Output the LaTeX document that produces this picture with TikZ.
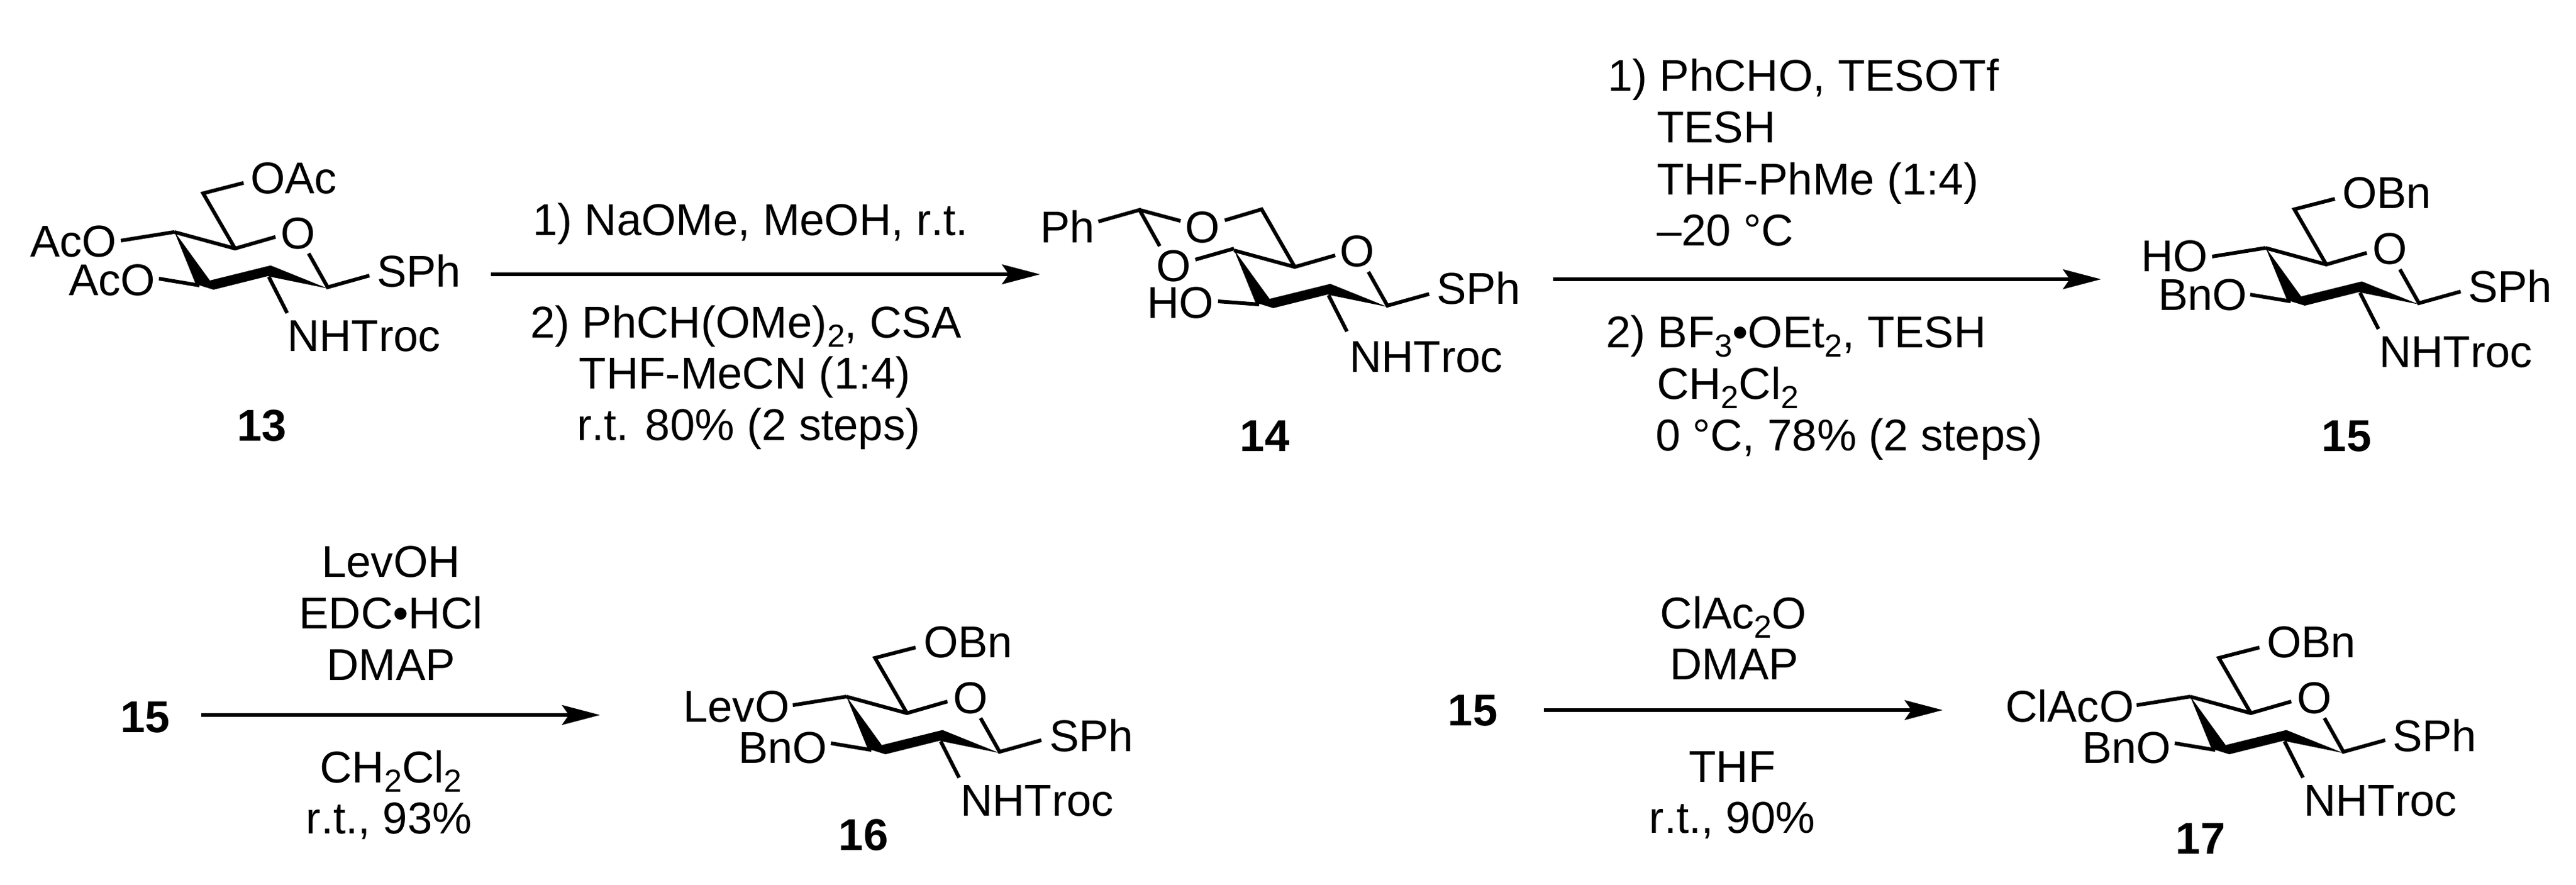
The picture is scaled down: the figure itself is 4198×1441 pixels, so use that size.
\documentclass[tikz,border=0pt]{standalone}
\usepackage{fontspec}
\setmainfont[Kerning=Off]{Liberation Sans}
\usetikzlibrary{arrows.meta}
\newcommand{\subs}[1]{\raisebox{-15pt}{\fontsize{52}{52}\selectfont #1}}
\tikzset{
  lab/.style={inner sep=0pt,outer sep=0pt,anchor=base west,font=\fontsize{72.6}{72.6}\selectfont},
  cen/.style={inner sep=0pt,outer sep=0pt,anchor=base,font=\fontsize{72.6}{72.6}\selectfont},
  num/.style={inner sep=0pt,outer sep=0pt,anchor=base,font=\fontsize{72.6}{72.6}\selectfont\bfseries},
  bond/.style={line width=6pt,line cap=butt,line join=miter,black},
  rxn/.style={line width=6pt,black,-{Stealth[length=62pt,width=32pt,inset=11pt]}}
}
% shared pyranose ring, in the coordinates of compound 13
\newcommand{\sugarcore}{%
  \fill[black] (284,377) -- (342,457) -- (441,432.5) -- (534,470) -- (436,450) -- (348,472) -- (319,463) -- cycle;
  \draw[bond] (284,378) -- (383,405) -- (449,386);
  \draw[bond] (503,413) -- (534,468) -- (602,449);
  \draw[bond] (438,451) -- (468,510);
}
\newcommand{\sugarsix}{%
  \draw[bond] (397,298) -- (331,315) -- (383,405);
  \draw[bond] (197,392) -- (284,378);
  \draw[bond] (259,454) -- (325,465);
}
\begin{document}
\begin{tikzpicture}[x=1pt,y=-1pt]
\useasboundingbox (0,0) rectangle (4198,1441);
\fill[white] (0,0) rectangle (4198,1441);

% --- 13
\begin{scope}
  \sugarcore \sugarsix
\end{scope}
\node[lab] (a13oac) at (408,315) {OAc};
\node[lab] (a13ac1) at (49,418) {AcO};
\node[lab] (a13ac2) at (112,481) {AcO};
\node[cen] (a13o) at (486,405) {O};
\node[lab] (a13s) at (614,467) {SPh};
\node[lab] (a13n) at (468,572) {NHTroc};
\node[num] (a13) at (427,718) {13};

% --- 14
\begin{scope}[shift={(1727,30)}]
  \sugarcore
  \draw[bond] (269,329) -- (329,311) -- (383,405);
  \draw[bond] (221,393) -- (284,375);
  \draw[bond] (258,461) -- (325,466);
  \draw[bond] (63,331) -- (130,312) -- (163,371);
  \draw[bond] (130,312) -- (197,330);
\end{scope}
\node[lab] (a14ph) at (1695,395) {Ph};
\node[cen] (a14o6) at (1960,395) {O};
\node[cen] (a14o4) at (1913,458) {O};
\node[lab] (a14ho) at (1869,518) {HO};
\node[cen] (a14o) at (2212,434) {O};
\node[lab] (a14s) at (2341,495) {SPh};
\node[lab] (a14n) at (2199,606) {NHTroc};
\node[num] (a14) at (2061,735) {14};

% --- 15
\begin{scope}[shift={(3408,26)}]
  \sugarcore \sugarsix
\end{scope}
\node[lab] (a15obn) at (3817,339) {OBn};
\node[lab] (a15ho) at (3489,442) {HO};
\node[lab] (a15bn) at (3517,505) {BnO};
\node[cen] (a15o) at (3895,430) {O};
\node[lab] (a15s) at (4022,492) {SPh};
\node[lab] (a15n) at (3877,598) {NHTroc};
\node[num] (a15) at (3824,735) {15};

% --- 16
\begin{scope}[shift={(1095,757)}]
  \sugarcore \sugarsix
\end{scope}
\node[lab] (a16obn) at (1505,1071) {OBn};
\node[lab] (a16lev) at (1113,1176) {LevO};
\node[lab] (a16bn) at (1203,1243) {BnO};
\node[cen] (a16o) at (1582,1162) {O};
\node[lab] (a16s) at (1710,1224) {SPh};
\node[lab] (a16n) at (1565,1329) {NHTroc};
\node[num] (a16) at (1407,1385) {16};

% --- 17
\begin{scope}[shift={(3285,757)}]
  \sugarcore \sugarsix
\end{scope}
\node[lab] (a17obn) at (3694,1071) {OBn};
\node[lab] (a17cl) at (3268,1176) {ClAcO};
\node[lab] (a17bn) at (3393,1243) {BnO};
\node[cen] (a17o) at (3772,1162) {O};
\node[lab] (a17s) at (3899,1224) {SPh};
\node[lab] (a17n) at (3754,1329) {NHTroc};
\node[num] (a17) at (3586,1391) {17};

% --- arrows
\coordinate (r1a) at (800,447);  \coordinate (r1b) at (1695,447);
\coordinate (r2a) at (2531,455); \coordinate (r2b) at (3424,455);
\coordinate (r3a) at (328,1165); \coordinate (r3b) at (978,1165);
\coordinate (r4a) at (2516,1157);\coordinate (r4b) at (3166,1157);
\draw[rxn] (r1a) -- (r1b);
\draw[rxn] (r2a) -- (r2b);
\draw[rxn] (r3a) -- (r3b);
\draw[rxn] (r4a) -- (r4b);

% --- reagents 13 to 14
\node[lab] (b1) at (868,383) {1) NaOMe, MeOH, r.t.};
\node[lab] (b2) at (864,550) {2) PhCH(OMe)\subs{2}, CSA};
\node[cen] (b3) at (1214,633) {THF-MeCN (1:4)};
\node[cen] (b4) at (1220,717) {r.t. 80\% (2 steps)};

% --- reagents 14 to 15
\node[lab] (c1) at (2620,148) {1) PhCHO, TESOTf};
\node[lab] (c2) at (2700,232) {TESH};
\node[lab] (c3) at (2700,317) {THF-PhMe (1:4)};
\node[lab] (c4) at (2700,400) {–20 °C};
\node[lab] (c5) at (2617,566) {2) BF\subs{3}•OEt\subs{2}, TESH};
\node[lab] (c6) at (2700,650) {CH\subs{2}Cl\subs{2}};
\node[lab] (c7) at (2698,734) {0 °C, 78\% (2 steps)};

% --- 15 to 16
\node[num] (d0) at (237,1193) {15};
\node[cen] (d1) at (637,940) {LevOH};
\node[cen] (d2) at (637,1024) {EDC•HCl};
\node[cen] (d3) at (637,1108) {DMAP};
\node[cen] (d4) at (637,1275) {CH\subs{2}Cl\subs{2}};
\node[cen] (d5) at (634,1358) {r.t., 93\%};

% --- 15 to 17
\node[num] (e0) at (2400,1182) {15};
\node[cen] (e1) at (2825,1024) {ClAc\subs{2}O};
\node[cen] (e2) at (2826,1107) {DMAP};
\node[cen] (e3) at (2823,1274) {THF};
\node[cen] (e4) at (2823,1357) {r.t., 90\%};
\end{tikzpicture}
\end{document}
